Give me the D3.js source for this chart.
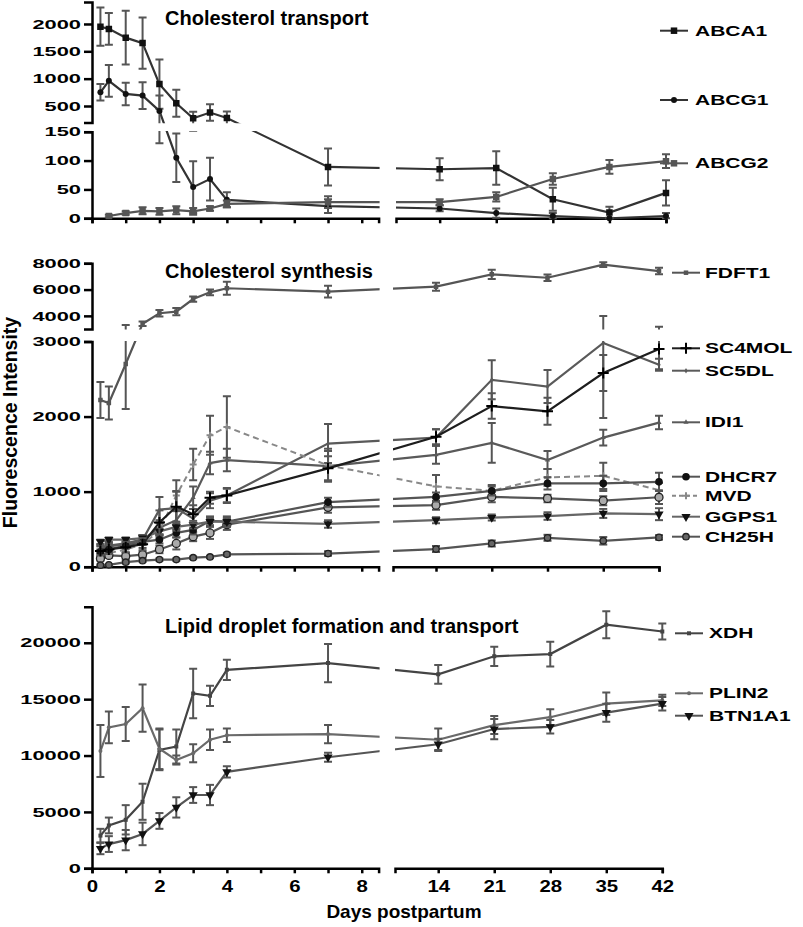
<!DOCTYPE html>
<html>
<head>
<meta charset="utf-8">
<script src="https://cdnjs.cloudflare.com/ajax/libs/d3/7.8.5/d3.min.js"></script>
<style>
  body { margin: 0; background: #fff; }
  svg { display: block; }
  text { font-family: Arial, "Liberation Sans", sans-serif; font-weight: bold; fill: #000; }
</style>
</head>
<body>
<div id="chart"></div>
<script>
// Days postpartum (x values) and tick values
const days = [0.25, 0.5, 1, 1.5, 2, 2.5, 3, 3.5, 4, 7, 14, 21, 28, 35, 42];
const leftDayTicks = [0, 1, 2, 3, 4, 5, 6, 7, 8];
const rightDayTicks = [14, 21, 28, 35, 42];

// Cholesterol transport
const abca1    = [1950, 1910, 1750, 1650, 900, 550, 275, 380, 280, 89, 85, 87, 33, 10, 44];
const abca1Err = [350, 290, 490, 470, 450, 245, 120, 150, 120, 32, 19, 29, 20, 10, 22];
const abcg1    = [750, 960, 720, 690, 410, 105, 54, 68, 32, 21, 17, 9, 4, 0, 4];
const abcg1Err = [150, 290, 205, 245, 280, 42, 45, 37, 13, 12, 5, 8, 5, 1, 5];
const abcg2    = [null, 4, 9, 13, 12, 14, 12, 17, 25, 28, 28, 37, 68, 89, 99];
const abcg2Err = [null, 2, 3, 6, 6, 7, 6, 4, 6, 10, 5, 8, 10, 12, 12];

// Cholesterol synthesis
const fdft1     = [2220, 2180, 2700, 3400, 4200, 4320, 5280, 5790, 6100, 5840, 6220, 7160, 6900, 7900, 7410];
const fdft1Err  = [240, 220, 600, 180, 250, 280, 200, 220, 500, 450, 300, 350, 250, 180, 250];
const sc4mol    = [210, 230, 260, 300, 590, 800, 700, 920, 950, 1310, 1730, 2140, 2070, 2580, 2900];
const sc4molErr = [60, 60, 70, 80, 160, 200, 120, 80, 90, 160, 100, 170, 180, 240, 270];
const sc5dl     = [260, 280, 310, 360, 760, 780, 640, 880, 950, 1640, 1720, 2490, 2400, 2980, 2690];
const sc5dlErr  = [40, 40, 50, 60, 170, 230, 130, 100, 100, 260, 110, 260, 220, 1000, 80];
const idi1      = [240, 270, 300, 360, 520, 620, 920, 1380, 1420, 1340, 1490, 1650, 1420, 1720, 1920];
const idi1Err   = [40, 40, 50, 60, 100, 120, 150, 150, 150, 200, 120, 265, 120, 105, 90];
const dhcr7     = [200, 230, 280, 330, 360, 450, 490, 610, 600, 860, 930, 1010, 1110, 1110, 1130];
const dhcr7Err  = [30, 30, 40, 40, 50, 60, 60, 60, 70, 60, 60, 60, 80, 100, 120];
const mvd       = [150, 180, 230, 300, 480, 950, 1360, 1750, 1860, 1350, 1070, 1010, 1190, 1210, 1020];
const mvdErr    = [30, 30, 40, 50, 100, 200, 210, 260, 410, 220, 150, 80, 110, 175, 100];
const openCirc  = [110, 150, 140, 160, 230, 310, 400, 450, 560, 790, 820, 930, 910, 880, 925];
const openCircErr = [30, 30, 40, 40, 50, 80, 60, 80, 70, 70, 60, 70, 50, 60, 90];
const ggps1     = [330, 360, 360, 380, 470, 530, 560, 600, 600, 570, 620, 655, 675, 710, 700];
const ggps1Err  = [30, 30, 30, 40, 40, 50, 50, 50, 50, 50, 40, 40, 50, 60, 80];
const ch25h     = [20, 25, 60, 80, 95, 95, 120, 130, 165, 175, 235, 310, 385, 345, 390];
const ch25hErr  = [10, 10, 15, 15, 15, 15, 15, 15, 20, 30, 40, 40, 40, 50, 30];

// Lipid droplet formation and transport
const xdh       = [2900, 3800, 4300, 5900, 10500, 10800, 15500, 15300, 17600, 18200, 17200, 18800, 19000, 21600, 21000];
const xdhErr    = [600, 700, 1300, 1600, 1800, 1500, 2200, 900, 900, 1700, 840, 850, 1100, 1200, 700];
const plin2     = [10400, 12500, 12800, 14200, 10600, 9600, 10200, 11400, 11800, 11900, 11400, 12700, 13400, 14600, 14900];
const plin2Err  = [2300, 1400, 1500, 2100, 1800, 400, 800, 900, 600, 800, 1000, 800, 700, 1000, 500];
const btn1a1    = [1750, 2150, 2500, 3050, 4200, 5400, 6500, 6500, 8550, 9850, 11000, 12350, 12550, 13800, 14600];
const btn1a1Err = [500, 700, 900, 1000, 700, 900, 700, 900, 500, 400, 500, 900, 600, 800, 600];

// y tick values
const transportLowTicks = [0, 50, 100, 150];
const transportHighTicks = [500, 1000, 1500, 2000];
const synthLowTicks = [0, 1000, 2000, 3000];
const synthHighTicks = [4000, 6000, 8000];
const lipidTicks = [0, 5000, 10000, 15000, 20000];

const svg = d3.select("#chart").append("svg")
    .attr("width", 803)
    .attr("height", 927);

const axisX = 92;
const xLeftRange = [92, 378.6];
const yLabelStretch = 1.68;
const legendStretch = 1.5;

const panels = [
  {
    id: "transport", title: "Cholesterol transport", titleY: 25,
    xAxisY: 218.3, xRight: [396, 666], showXLabels: false,
    yPieces: [
      {domain: [0, 150], range: [218.3, 131.7], ticks: transportLowTicks},
      {domain: [200, 2400], range: [122.4, 2.1], ticks: transportHighTicks}
    ],
    yBands: [[0, 123.2], [131, 228]],
    legendLine: [660, 688], legendText: 695,
    series: [
      {name: "ABCA1", values: abca1, errors: abca1Err, color: "#333", marker: {type: "square", size: 6.5, fill: "#111"}, legendY: 30.7},
      {name: "ABCG1", values: abcg1, errors: abcg1Err, color: "#333", marker: {type: "circle", size: 3, fill: "#111"}, legendY: 100},
      {name: "ABCG2", values: abcg2, errors: abcg2Err, color: "#555", marker: {type: "square", size: 6.5, fill: "#555"}, legendY: 163.3}
    ]
  },
  {
    id: "synthesis", title: "Cholesterol synthesis", titleY: 278.3,
    xAxisY: 566.7, xRight: [393, 659], showXLabels: false,
    yPieces: [
      {domain: [0, 3000], range: [566.7, 341.5], ticks: synthLowTicks},
      {domain: [3000, 8000], range: [329, 263.3], ticks: synthHighTicks}
    ],
    yBands: [[240, 329.5], [341, 578]],
    legendLine: [672, 700], legendText: 705,
    series: [
      {name: "FDFT1", values: fdft1, errors: fdft1Err, color: "#555", marker: {type: "square", size: 4.5, fill: "#555"}, legendY: 272.7},
      {name: "SC5DL", values: sc5dl, errors: sc5dlErr, color: "#5a5a5a", marker: {type: "diamond", size: 4.5, fill: "#5a5a5a"}, legendY: 370.7},
      {name: "IDI1", values: idi1, errors: idi1Err, color: "#5a5a5a", marker: {type: "triUp", size: 5, fill: "#5a5a5a"}, legendY: 422.3},
      {name: "MVD", values: mvd, errors: mvdErr, color: "#888", dash: "6,4", marker: {type: "plus", size: 3.5, stroke: "#888"}, legendY: 495.7},
      {name: null, values: openCirc, errors: openCircErr, color: "#555", marker: {type: "circle", size: 4, fill: "#aaa", stroke: "#222"}},
      {name: "DHCR7", values: dhcr7, errors: dhcr7Err, color: "#555", marker: {type: "circle", size: 3.8, fill: "#111"}, legendY: 476.7},
      {name: "GGPS1", values: ggps1, errors: ggps1Err, color: "#666", marker: {type: "triDown", size: 9, fill: "#111"}, legendY: 516.7},
      {name: "CH25H", values: ch25h, errors: ch25hErr, color: "#555", marker: {type: "circle", size: 3.2, fill: "#666", stroke: "#222"}, legendY: 536.7},
      {name: "SC4MOL", values: sc4mol, errors: sc4molErr, color: "#1e1e1e", marker: {type: "plus", size: 5.5, stroke: "#000"}, legendY: 348.3}
    ]
  },
  {
    id: "lipid", title: "Lipid droplet formation and transport", titleY: 633.3,
    xAxisY: 868.3, xRight: [395, 662.3], showXLabels: true,
    yPieces: [
      {domain: [0, 23200], range: [868.3, 606.7], ticks: lipidTicks}
    ],
    yBands: [[590, 880]],
    legendLine: [675, 703], legendText: 709,
    series: [
      {name: "XDH", values: xdh, errors: xdhErr, color: "#444", marker: {type: "square", size: 4, fill: "#444"}, legendY: 633.3},
      {name: "PLIN2", values: plin2, errors: plin2Err, color: "#6a6a6a", marker: {type: "circle", size: 2, fill: "#6a6a6a"}, legendY: 693.3},
      {name: "BTN1A1", values: btn1a1, errors: btn1a1Err, color: "#555", marker: {type: "triDown", size: 9, fill: "#111"}, legendY: 715.7}
    ]
  }
];

function drawMarker(sel, m) {
  if (m.type === "circle") {
    sel.append("circle").attr("r", m.size)
      .attr("fill", m.fill).attr("stroke", m.stroke || "none").attr("stroke-width", 1.3);
  } else if (m.type === "plus") {
    sel.append("path")
      .attr("d", `M${-m.size},0H${m.size}M0,${-m.size}V${m.size}`)
      .attr("stroke", m.stroke).attr("stroke-width", 2).attr("fill", "none");
  } else {
    const types = {square: d3.symbolSquare, diamond: d3.symbolDiamond, triUp: d3.symbolTriangle, triDown: d3.symbolTriangle};
    const area = m.type === "square" ? m.size * m.size : m.size * m.size * 0.45;
    sel.append("path")
      .attr("d", d3.symbol(types[m.type], area)())
      .attr("transform", m.type === "triDown" ? "rotate(180)" : null)
      .attr("fill", m.fill);
  }
}

function styleAxis(g) {
  g.select(".domain").attr("stroke", "#000").attr("stroke-width", 2.5);
  g.selectAll(".tick line").attr("stroke", "#000").attr("stroke-width", 2.5);
}

panels.forEach(p => {
  const xl = d3.scaleLinear([0, 8.5], xLeftRange);
  const xr = d3.scaleLinear([8.6, 42], p.xRight);
  // composite scale across the axis break
  const x = d3.scaleLinear()
      .domain([...xl.domain(), ...xr.domain()])
      .range([...xl.range(), ...xr.range()]);
  const yScales = p.yPieces.map(pc => d3.scaleLinear(pc.domain, pc.range));
  const y = d3.scaleLinear()
      .domain(p.yPieces.flatMap(pc => pc.domain))
      .range(p.yPieces.flatMap(pc => pc.range));
  const yMin = p.yPieces[0].domain[0];

  // clip region = segments of the broken axes
  const clip = svg.append("clipPath").attr("id", "clip-" + p.id);
  const xBands = [[70, xLeftRange[1] + 1], [p.xRight[0], 700]];
  xBands.forEach(xb => p.yBands.forEach(yb => {
    clip.append("rect")
      .attr("x", xb[0]).attr("y", yb[0])
      .attr("width", xb[1] - xb[0]).attr("height", yb[1] - yb[0]);
  }));

  // x axes
  const xAxisL = svg.append("g")
      .attr("transform", `translate(0,${p.xAxisY})`)
      .call(d3.axisBottom(xl).tickValues(leftDayTicks).tickSize(5).tickPadding(7)
        .tickFormat(d => p.showXLabels && d % 2 === 0 ? d : ""));
  const xAxisR = svg.append("g")
      .attr("transform", `translate(0,${p.xAxisY})`)
      .call(d3.axisBottom(xr).tickValues(rightDayTicks).tickSize(5).tickPadding(7)
        .tickFormat(d => p.showXLabels ? d : ""));
  [xAxisL, xAxisR].forEach(g => {
    styleAxis(g);
    g.selectAll("text")
      .style("font-size", "17px")
      .attr("transform", "scale(1.2,1)")
      .attr("fill", "#000");
  });

  // y axes (one per segment)
  p.yPieces.forEach((pc, i) => {
    const g = svg.append("g")
        .attr("transform", `translate(${axisX},0)`)
        .call(d3.axisLeft(yScales[i]).tickValues(pc.ticks).tickSize(8).tickPadding(3)
          .tickFormat(d3.format("d")));
    styleAxis(g);
    g.selectAll("text")
      .style("font-size", "13px")
      .attr("fill", "#000")
      .attr("x", -11 / yLabelStretch)
      .attr("transform", `scale(${yLabelStretch},1)`);
  });

  // title
  svg.append("text")
    .attr("x", 165).attr("y", p.titleY)
    .style("font-size", "20px")
    .text(p.title);

  const plot = svg.append("g").attr("clip-path", `url(#clip-${p.id})`);

  const line = d3.line()
      .defined(d => d.v != null)
      .x(d => x(d.day))
      .y(d => y(d.v));

  p.series.forEach(s => {
    const pts = days.map((day, i) => ({day, v: s.values[i], e: s.errors[i]}));
    const sg = plot.append("g");

    sg.append("path")
      .datum(pts)
      .attr("fill", "none")
      .attr("stroke", s.color)
      .attr("stroke-width", s.dash ? 2 : 2.2)
      .attr("stroke-dasharray", s.dash || null)
      .attr("d", line);

    const valid = pts.filter(d => d.v != null);

    // error bars
    const eb = sg.selectAll(".err").data(valid.filter(d => d.e)).join("g").attr("class", "err");
    eb.append("line")
      .attr("x1", d => x(d.day)).attr("x2", d => x(d.day))
      .attr("y1", d => y(Math.max(yMin, d.v - d.e))).attr("y2", d => y(d.v + d.e));
    eb.append("line")
      .attr("x1", d => x(d.day) - 4).attr("x2", d => x(d.day) + 4)
      .attr("y1", d => y(d.v + d.e)).attr("y2", d => y(d.v + d.e));
    eb.append("line")
      .attr("x1", d => x(d.day) - 4).attr("x2", d => x(d.day) + 4)
      .attr("y1", d => y(Math.max(yMin, d.v - d.e))).attr("y2", d => y(Math.max(yMin, d.v - d.e)));
    eb.selectAll("line").attr("stroke", "#555").attr("stroke-width", 2);

    // markers
    const mk = sg.selectAll(".mk").data(valid).join("g")
        .attr("class", "mk")
        .attr("transform", d => `translate(${x(d.day)},${y(d.v)})`);
    drawMarker(mk, s.marker);

    // legend
    if (s.name) {
      const lg = svg.append("g");
      lg.append("line")
        .attr("x1", p.legendLine[0]).attr("x2", p.legendLine[1])
        .attr("y1", s.legendY).attr("y2", s.legendY)
        .attr("stroke", s.color).attr("stroke-width", 2)
        .attr("stroke-dasharray", s.dash ? "4,3" : null);
      const lm = lg.append("g")
        .attr("transform", `translate(${(p.legendLine[0] + p.legendLine[1]) / 2},${s.legendY})`);
      drawMarker(lm, s.marker);
      lg.append("text")
        .attr("transform", `translate(${p.legendText},${s.legendY}) scale(${legendStretch},1)`)
        .attr("dy", "0.36em")
        .style("font-size", "14px")
        .text(s.name);
    }
  });
});

// axis titles
svg.append("text")
  .attr("transform", "translate(17,422.5) rotate(-90)")
  .attr("text-anchor", "middle")
  .style("font-size", "19.5px")
  .text("Fluorescence Intensity");

svg.append("text")
  .attr("x", 404).attr("y", 918)
  .attr("text-anchor", "middle")
  .style("font-size", "19px")
  .text("Days postpartum");
</script>
</body>
</html>
